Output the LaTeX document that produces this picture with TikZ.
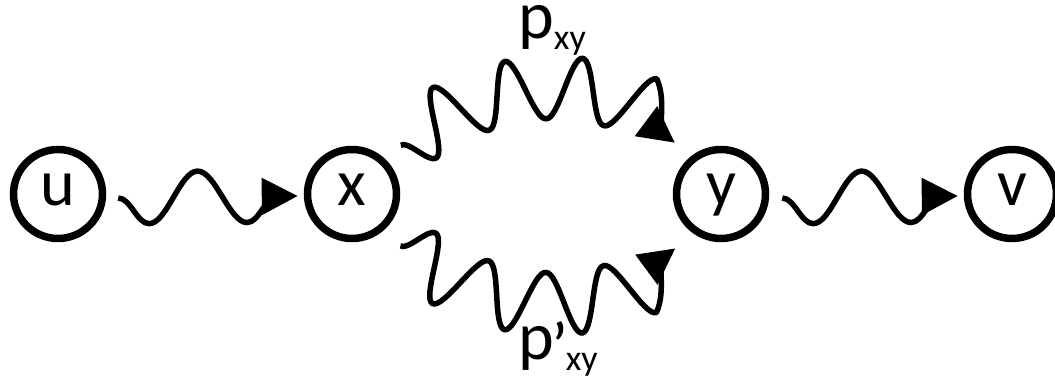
\documentclass[tikz,border=0pt]{standalone}
\usepackage{fontspec}
\setmainfont{Carlito}
\usetikzlibrary{arrows.meta,decorations.pathmorphing,calc}
\begin{document}
\begin{tikzpicture}[x=1pt,y=1pt,
  state/.style={circle,draw,line width=7.5pt,minimum size=89pt,inner sep=0pt,
    font=\fontsize{66}{70}\selectfont,text height=31pt,text depth=8pt},
  wave/.style={line width=5.5pt,line join=round,decorate,
    -{Triangle[length=36pt,width=36pt]}},
  lbl/.style={anchor=base west,inner sep=0pt,font=\fontsize{68}{70}\selectfont}
]
\useasboundingbox (0,0) rectangle (1055,382);
\node[state] (u) at (58,188) {u};
\node[state] (x) at (352,188) {x};
\node[state] (y) at (721,188) {y};
\node[state] (v) at (1012,188) {v};

\draw[wave,decoration={snake,mirror,segment length=98pt,amplitude=26pt}]
  ([shift={(12,-4)}]u.east) -- ([shift={(-6,-2)}]x.west);
\draw[wave,decoration={snake,mirror,segment length=98pt,amplitude=26pt}]
  ([shift={(13,-4)}]y.east) -- ([shift={(-6,-2)}]v.west);

\draw[wave,decoration={snake,mirror,segment length=68pt,amplitude=31pt}]
  ($(x)+(45:69pt)$) to[bend left=35] ($(y)+(132:69pt)$);
\draw[wave,decoration={snake,segment length=68pt,amplitude=31pt}]
  ($(x)+(-47:71pt)$) to[bend right=35] ($(y)+(-130:71pt)$);

\node[lbl] (pup) at (518,343) {p\raisebox{-11pt}{\fontsize{36}{40}\selectfont xy}};
\node[lbl] (pdn) at (518,22) {p\kern-2pt\raisebox{-10pt}{’}\kern-3pt\raisebox{-11pt}{\fontsize{36}{40}\selectfont xy}};
\end{tikzpicture}
\end{document}
